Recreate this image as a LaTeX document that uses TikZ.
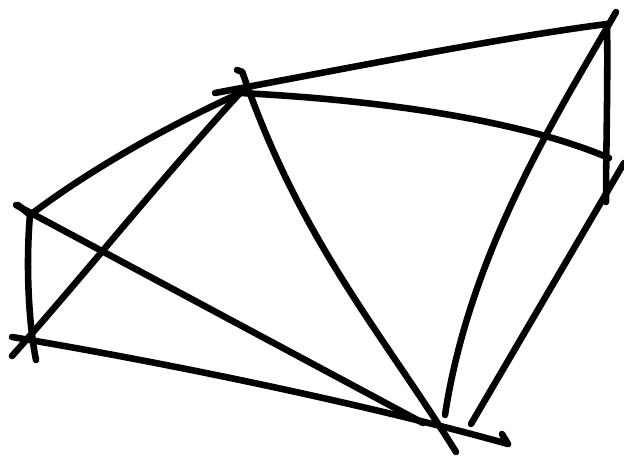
\documentclass[tikz,border=0pt]{standalone}
\usetikzlibrary{calc}
\tikzset{pen/.style={line width=5.6pt,line cap=round,line join=round,black}}
\begin{document}
\begin{tikzpicture}[x=0.03cm,y=-0.03cm]
\useasboundingbox (0,0) rectangle (624,456);
% corners of the sketch
\coordinate (atop) at (237,70);
\coordinate (aleft) at (215,93);
\coordinate (a) at (240,93);
\coordinate (btip) at (616,12);
\coordinate (b) at (607,24);
\coordinate (bfoot) at (606,202);
\coordinate (f) at (609,158);
\coordinate (cout) at (16,205);
\coordinate (c) at (30,215);
\coordinate (cfoot) at (36,360);
\coordinate (dout) at (12,356);
\coordinate (dleft) at (12,337);
\coordinate (eend) at (423,423);
\coordinate (acurve) at (456,452);
\coordinate (dend) at (508,444);
\coordinate (bcurve) at (445,415);
\coordinate (rtop) at (624,163);
\coordinate (rend) at (471,424);
% strokes
\draw[pen] (aleft) .. controls (380,62) and (500,38) .. (b);
\draw[pen] (a) .. controls (380,100) and (520,120) .. (f);
\draw[pen] (b) .. controls (608,80) and (606,150) .. (bfoot);
\draw[pen] (btip) .. controls (560,110) and (470,250) .. (bcurve);
\draw[pen] (rtop) -- (rend);
\draw[pen] (a) .. controls (160,130) and (90,170) .. (c) -- ++(-12,-10);
\draw[pen] (c) .. controls (26,260) and (28,320) .. (cfoot);
\draw[pen] (dout) .. controls (80,280) and (160,180) .. (a);
\draw[pen] (cout) -- (eend);
\draw[pen] (dleft) .. controls (150,360) and (350,400) .. (dend) -- ++(-6,-10);
\draw[pen] (atop) -- ($(atop)!0.08!(a)+(5,0)$) .. controls (300,240) and (380,330) .. (acurve);
\end{tikzpicture}
\end{document}
